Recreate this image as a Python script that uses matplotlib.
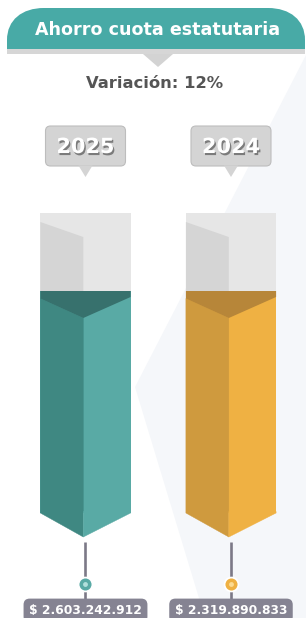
import matplotlib
matplotlib.use("Agg")
import matplotlib.pyplot as plt
import matplotlib.patheffects as pe
from matplotlib.patches import Polygon, FancyBboxPatch, PathPatch, Rectangle
from matplotlib.path import Path

title = "Ahorro cuota estatutaria"
subtitle = "Variación: 12%"
years = ["2025", "2024"]
values = [2603242912, 2319890833]
fill_level = [0.74, 0.74]  # colored share of each column, as drawn in the picture
face_left = ["#3f8882", "#cf9a3e"]
face_right = ["#59aaa5", "#efb143"]
face_top = ["#37716d", "#b78639"]
dot_light = ["#c9eeea", "#ffe6a8"]

FONT = "DejaVu Sans"


def money(v):
    return "$ " + f"{v:,}".replace(",", ".")


W, H = 306, 618
fig = plt.figure(figsize=(W / 100, H / 100), dpi=100)
fig.patch.set_facecolor("white")

# pixel layer for the decoration
ax_d = fig.add_axes([0, 0, 1, 1])
ax_d.set_xlim(0, W)
ax_d.set_ylim(H, 0)
ax_d.axis("off")

# bar layer: category on x, fill share on y
ax = fig.add_axes([0, 0, 1, 1])
ax.set_xlim(-0.5876, 1.5155)
ax.set_ylim(-0.35, 1.71)
ax.axis("off")

# light background shape
ax_d.add_patch(Polygon([(306, 55), (135, 387), (205, 618), (306, 618)],
                       color="#f5f7fa", zorder=0, lw=0))

# title banner
P = Path
verts = [(7, 49), (7, 40), (7, 20), (22, 8), (44, 8), (268, 8), (290, 8),
         (305, 20), (305, 40), (305, 49), (7, 49)]
codes = [P.MOVETO, P.LINETO, P.CURVE4, P.CURVE4, P.CURVE4, P.LINETO,
         P.CURVE4, P.CURVE4, P.CURVE4, P.LINETO, P.CLOSEPOLY]
ax_d.add_patch(PathPatch(Path(verts, codes), fc="#48aaa6", ec="none", zorder=2))
ax_d.add_patch(Rectangle((7, 49), 298, 5, fc="#d6d6d6", ec="none", zorder=2))
ax_d.add_patch(Polygon([(143, 54), (173, 54), (158, 67)], fc="#d3d3d3", ec="none", zorder=2))
ax_d.text(158, 35, title, ha="center", va="baseline", color="white",
          fontsize=12.6, fontweight="bold", family=FONT, zorder=3)
ax_d.text(155, 88, subtitle, ha="center", va="baseline", color="#555555",
          fontsize=11.8, fontweight="bold", family=FONT, zorder=3)

# columns
x = list(range(len(years)))
hw = 0.31
dv = -0.015
ax.bar(x, [1] * len(x), width=2 * hw, color="#e6e6e6", zorder=1)
ax.bar(x, fill_level, width=2 * hw, color=face_right, zorder=2)
for i, lvl in enumerate(fill_level):
    c = x[i]
    m = c + dv
    ax.add_patch(Polygon([(c - hw, lvl), (c - hw, 0.97), (m, 0.92), (m, lvl)],
                         fc="#d5d5d5", ec="none", zorder=1.5))
    ax.add_patch(Polygon([(c - hw, lvl - 0.025), (m, lvl - 0.09), (m, -0.08), (c - hw, 0)],
                         fc=face_left[i], ec=face_left[i], lw=0.3, zorder=3))
    ax.add_patch(Polygon([(m, 0.005), (c + hw, 0.005), (c + hw, 0), (m, -0.08)],
                         fc=face_right[i], ec=face_right[i], lw=0.3, zorder=3))
    ax.add_patch(Polygon([(c - hw, lvl), (c + hw, lvl), (c + hw, lvl - 0.02),
                          (m, lvl - 0.09), (c - hw, lvl - 0.025)],
                         fc=face_top[i], ec="none", zorder=4))

    # stem, dot and value label
    ax.plot([c, c], [-0.097, -0.29], color="#7c7987", lw=1.9,
            solid_capstyle="butt", zorder=2)
    ax.plot(c, -0.238, "o", ms=10, mfc=face_right[i], mec="white", mew=1.3, zorder=5)
    ax.plot(c, -0.238, "o", ms=3.5, mfc=dot_light[i], mec="none", alpha=0.8, zorder=6)
    ax.text(c, -0.337, money(values[i]), ha="center", va="baseline", color="white",
            fontsize=8.8, fontweight="bold", family=FONT, zorder=6,
            bbox=dict(boxstyle="round,pad=0.45,rounding_size=0.5", fc="#858392", ec="none"))

    # year callout
    cx = ax_d.transData.inverted().transform(ax.transData.transform((c, 0)))[0]
    ax_d.add_patch(FancyBboxPatch((cx - 40, 126), 80, 40,
                                  boxstyle="round,pad=0,rounding_size=5",
                                  fc="#d4d4d4", ec="#bdbdbd", lw=0.8, zorder=2))
    ax_d.add_patch(Polygon([(cx - 7, 165.5), (cx + 7, 165.5), (cx, 177)],
                           fc="#d4d4d4", ec="none", zorder=2))
    ax.text(c, 1.2, years[i], ha="center", va="baseline", color="white",
            fontsize=15, fontweight="bold", family=FONT, zorder=6,
            path_effects=[pe.withSimplePatchShadow(offset=(1, -1.5),
                                                   shadow_rgbFace="#555555", alpha=0.7)])

fig.savefig("out.png", dpi=100, facecolor="white")
